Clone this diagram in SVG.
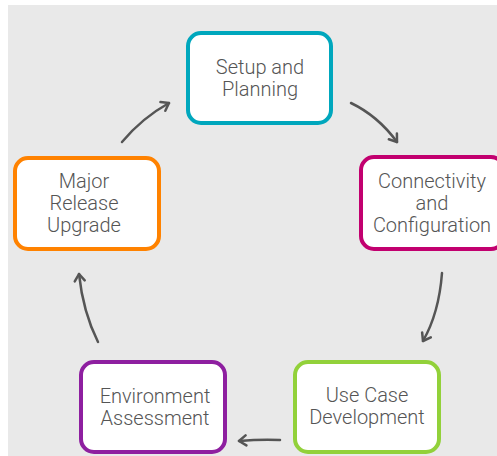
<svg xmlns="http://www.w3.org/2000/svg" width="497" height="456" viewBox="0 0 497 456">
<defs>
<style>
.box{fill:#fff;stroke-width:4}
.t{font-family:Roboto,"Liberation Sans",sans-serif;font-weight:300;font-size:20px;fill:#555;text-anchor:middle}
.c{fill:none;stroke:#555;stroke-width:2.5;stroke-linecap:round}
</style>
<marker id="ah" markerUnits="userSpaceOnUse" markerWidth="14" markerHeight="14" refX="9" refY="6" orient="auto" viewBox="0 0 14 12">
<path d="M2,1 L9,6 L2,11" fill="none" stroke="#555" stroke-width="2.5" stroke-linecap="round" stroke-linejoin="round"/>
</marker>
</defs>
<rect x="8" y="5" width="489" height="451" fill="#e9e9e9"/>
<g id="connectors">
<path class="c" d="M122,142 Q142,118 169,103" marker-end="url(#ah)"/>
<path class="c" d="M351,103 Q378,116 397,142" marker-end="url(#ah)"/>
<path class="c" d="M442,273 Q439,313 423,341" marker-end="url(#ah)"/>
<path class="c" d="M280,440 Q262,439 239,441" marker-end="url(#ah)"/>
<path class="c" d="M98,342 Q83,312 79,274" marker-end="url(#ah)"/>
</g>
<g id="setup">
<rect class="box" x="188" y="33" width="143" height="90" rx="13" stroke="#00a7bd"/>
<text class="t" x="260" y="74">Setup and</text>
<text class="t" x="260" y="96">Planning</text>
</g>
<g id="connectivity">
<rect class="box" x="361" y="157" width="143" height="92" rx="13" stroke="#c2006f"/>
<text class="t" x="432" y="188">Connectivity</text>
<text class="t" x="432" y="210">and</text>
<text class="t" x="432" y="232">Configuration</text>
</g>
<g id="major">
<rect class="box" x="15" y="158" width="144" height="91" rx="13" stroke="#ff8200"/>
<text class="t" x="84" y="188">Major</text>
<text class="t" x="84" y="210">Release</text>
<text class="t" x="84" y="232">Upgrade</text>
</g>
<g id="environment">
<rect class="box" x="81" y="362" width="144" height="90" rx="13" stroke="#8e1fa0"/>
<text class="t" x="155" y="403">Environment</text>
<text class="t" x="155" y="425">Assessment</text>
</g>
<g id="usecase">
<rect class="box" x="295" y="362" width="144" height="90" rx="13" stroke="#92d13a"/>
<text class="t" x="367" y="402">Use Case</text>
<text class="t" x="367" y="424">Development</text>
</g>
</svg>
